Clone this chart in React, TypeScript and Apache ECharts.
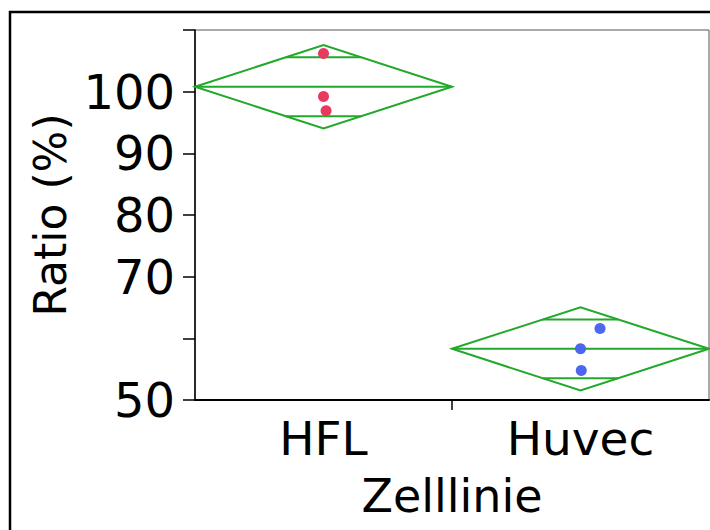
import React, { useEffect, useRef } from 'react';
import * as echarts from 'echarts';

const categories = ['HFL', 'Huvec'];
const hflValues = [106.2, 99.2, 96.9];
const huvecValues = [61.6, 58.3, 54.8];
const hflJitter = [0, 0, 0.01];
const huvecJitter = [0.076, 0, 0.003];
const groupMeans = [100.8, 58.3];
const ciHalfWidths = [6.75, 6.75];
const overlapHalfWidths = [4.77, 4.77];
const yTickLabels = [50, 70, 80, 90, 100];
const categoryLabelPositions = [0.5, 1.5];
const categoryBoundaries = [1];

const FONT = 'DejaVu Sans';
const GREEN = '#22a82a';

export default function App() {
  const ref = useRef<HTMLDivElement>(null);
  useEffect(() => {
    if (!ref.current) return;
    const chart = echarts.init(ref.current, null, { renderer: 'svg' });
    const diamondData = categories.map((_, i) => [i, groupMeans[i], ciHalfWidths[i], overlapHalfWidths[i]]);
    const option: any = {
      animation: false,
      backgroundColor: '#ffffff',
      textStyle: { fontFamily: FONT },
      graphic: [
        {
          type: 'rect',
          silent: true,
          shape: { x: 10, y: 12, width: 800, height: 700 },
          style: { fill: 'none', stroke: '#000', lineWidth: 2.5 },
        },
      ],
      grid: {
        left: 195, right: 1, top: 30, bottom: 130,
        show: true, borderColor: '#555', borderWidth: 1,
      },
      xAxis: {
        type: 'value', min: 0, max: 2,
        name: 'Zelllinie', nameLocation: 'middle', nameGap: 73,
        nameTextStyle: { fontSize: 46, color: '#000', fontFamily: FONT },
        axisLine: { show: true, lineStyle: { color: '#000', width: 2 } },
        axisTick: { show: true, customValues: categoryBoundaries, length: 10, lineStyle: { color: '#000', width: 1.5 } },
        axisLabel: {
          customValues: categoryLabelPositions,
          formatter: (v: number) => categories[Math.floor(v)],
          fontSize: 47, color: '#000', margin: 15, fontFamily: FONT,
        },
        splitLine: { show: false },
      },
      yAxis: {
        type: 'value', min: 50, max: 110, interval: 10,
        name: 'Ratio (%)', nameLocation: 'middle', nameGap: 116, nameRotate: 90,
        nameTextStyle: { fontSize: 44, color: '#000', fontFamily: FONT },
        axisLine: { show: true, lineStyle: { color: '#000', width: 1.5 } },
        axisTick: { show: true, length: 12, lineStyle: { color: '#000', width: 1.5 } },
        axisLabel: {
          customValues: yTickLabels,
          fontSize: 48, color: '#000', margin: 20, fontFamily: FONT,
        },
        splitLine: { show: false },
      },
      series: [
        {
          type: 'custom',
          data: diamondData,
          clip: false,
          renderItem: (params: any, api: any) => {
            const i = api.value(0);
            const m = api.value(1);
            const h = api.value(2);
            const o = api.value(3);
            const left = api.coord([i, m]);
            const right = api.coord([i + 1, m]);
            const top = api.coord([i + 0.5, m + h]);
            const bottom = api.coord([i + 0.5, m - h]);
            const frac = 0.5 * (1 - o / h);
            const oHiL = api.coord([i + 0.5 - frac, m + o]);
            const oHiR = api.coord([i + 0.5 + frac, m + o]);
            const oLoL = api.coord([i + 0.5 - frac, m - o]);
            const oLoR = api.coord([i + 0.5 + frac, m - o]);
            const st = { stroke: GREEN, lineWidth: 2, fill: 'none' };
            return {
              type: 'group',
              children: [
                { type: 'polygon', shape: { points: [left, top, right, bottom] }, style: st },
                { type: 'line', shape: { x1: left[0], y1: left[1], x2: right[0], y2: right[1] }, style: st },
                { type: 'line', shape: { x1: oHiL[0], y1: oHiL[1], x2: oHiR[0], y2: oHiR[1] }, style: st },
                { type: 'line', shape: { x1: oLoL[0], y1: oLoL[1], x2: oLoR[0], y2: oLoR[1] }, style: st },
              ],
            };
          },
          z: 2,
        },
        {
          type: 'scatter',
          data: hflValues.map((v, k) => [0.5 + hflJitter[k], v]),
          symbolSize: 11,
          itemStyle: { color: '#e8395e', opacity: 1 },
          z: 3,
        },
        {
          type: 'scatter',
          data: huvecValues.map((v, k) => [1.5 + huvecJitter[k], v]),
          symbolSize: 11,
          itemStyle: { color: '#4c66ee', opacity: 1 },
          z: 3,
        },
      ],
    };
    chart.setOption(option);
    return () => chart.dispose();
  }, []);
  return (
    <div
      ref={ref}
      style={{ position: 'fixed', left: 0, top: 0, width: 710, height: 530, background: '#fff' }}
    />
  );
}
